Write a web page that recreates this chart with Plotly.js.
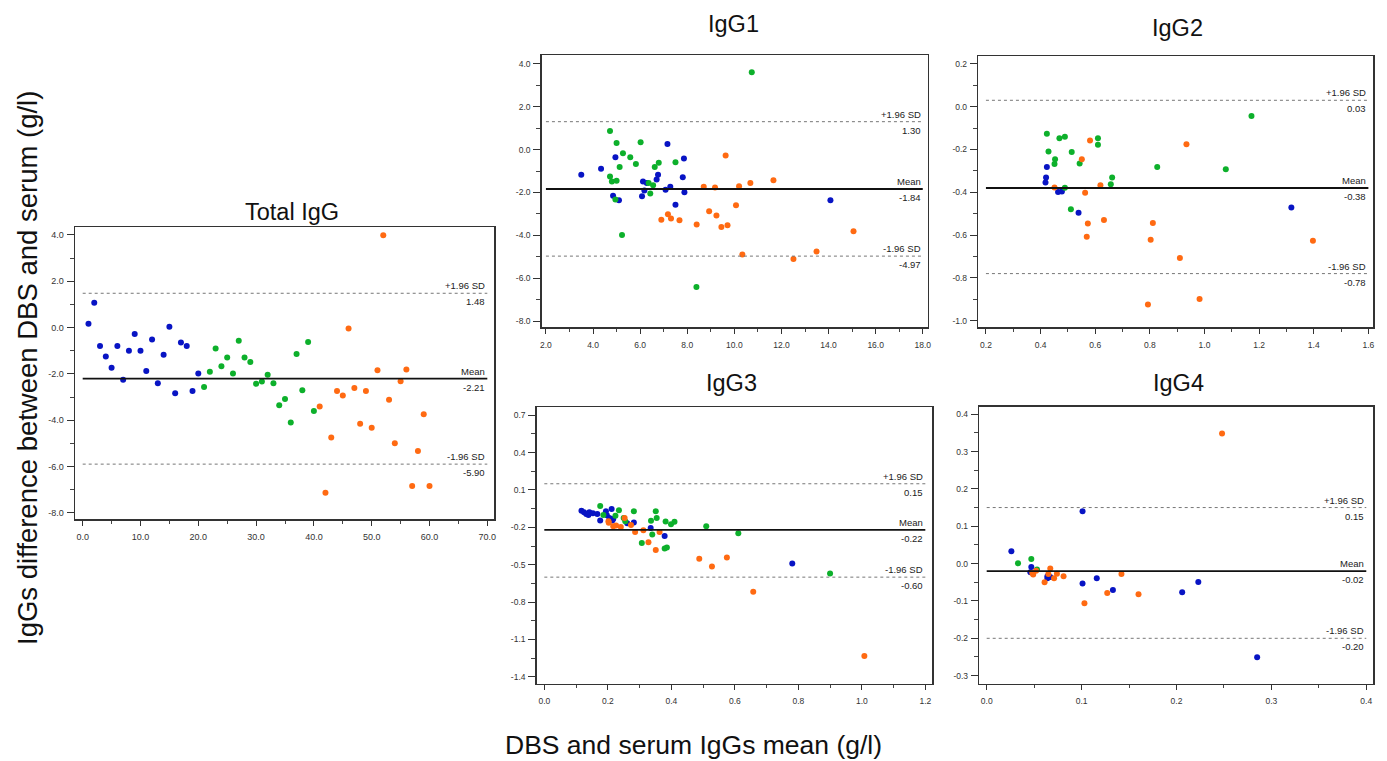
<!DOCTYPE html>
<html>
<head>
<meta charset="utf-8">
<script src="https://cdn.plot.ly/plotly-3.0.1.min.js"></script>
<style>html,body{margin:0;padding:0;background:#fff;}#chart{width:1387px;height:761px;}</style>
</head>
<body>
<div id="chart"></div>
<script>
// ---------- DATA ----------
// Total IgG (x = sample number)
const totalBlueX = [1,2,3,4,5,6,7,8,9,10,11,12,13,14,15,16,17,18,19,20];
const totalBlueY = [0.16,1.07,-0.80,-1.25,-1.74,-0.80,-2.26,-1.00,-0.28,-1.00,-1.88,-0.52,-2.41,-1.17,0.03,-2.84,-0.65,-0.80,-2.74,-1.99];
const totalGreenX = [21,22,23,24,25,26,27,28,29,30,31,32,33,34,35,36,37,38,39,40];
const totalGreenY = [-2.57,-1.91,-0.90,-1.67,-1.29,-1.99,-0.57,-1.29,-1.49,-2.43,-2.33,-2.04,-2.41,-3.36,-3.09,-4.10,-1.14,-2.71,-0.62,-3.61];
const totalOrangeX = [41,42,43,44,45,46,47,48,49,50,51,52,53,54,55,56,57,58,59,60];
const totalOrangeY = [-3.41,-7.14,-4.75,-2.74,-2.94,-0.04,-2.61,-4.16,-2.74,-4.33,-1.84,3.99,-3.12,-5.00,-2.32,-1.81,-6.84,-5.33,-3.74,-6.84];
const totalStats = [1.48,-2.21,-5.90];
const totalStatText = ["1.48","-2.21","-5.90"];

// IgG1
const igg1BlueX = [3.50,4.34,4.95,4.85,5.10,6.08,6.12,6.18,6.28,6.70,6.76,7.16,7.08,7.28,7.50,7.81,7.86,7.88,14.08];
const igg1BlueY = [-1.18,-0.90,-0.36,-2.15,-2.37,-2.18,-1.49,-1.91,-1.56,-1.40,-1.18,0.26,-1.88,-1.74,-2.57,-1.29,-0.42,-1.99,-2.37];
const igg1GreenX = [4.72,4.72,4.80,4.95,5.00,5.00,5.13,5.23,5.27,5.58,5.82,6.02,6.36,6.43,6.55,6.62,6.79,7.50,8.39,10.74];
const igg1GreenY = [0.86,-1.26,-1.49,-2.33,0.30,-1.46,-0.81,-3.98,-0.17,-0.36,-0.67,0.34,-1.56,-2.05,-1.67,-0.81,-0.62,-0.59,-6.41,3.60];
const igg1OrangeX = [6.90,7.18,7.31,7.67,8.40,8.70,8.93,9.18,9.24,9.45,9.63,9.71,10.07,10.20,10.34,10.68,11.66,12.51,13.49,15.06];
const igg1OrangeY = [-3.27,-3.02,-3.22,-3.30,-3.50,-1.74,-2.88,-1.77,-3.08,-3.61,-0.28,-3.53,-2.60,-1.71,-4.89,-1.56,-1.43,-5.10,-4.75,-3.81];
const igg1Stats = [1.30,-1.84,-4.97];
const igg1StatText = ["1.30","-1.84","-4.97"];

// IgG2
const igg2BlueX = [0.423,0.420,0.418,0.464,0.478,0.539,1.318];
const igg2BlueY = [-0.282,-0.331,-0.354,-0.399,-0.396,-0.496,-0.471];
const igg2GreenX = [0.423,0.429,0.453,0.451,0.469,0.489,0.489,0.511,0.514,0.543,0.610,0.610,0.657,0.662,0.827,1.078,1.172];
const igg2GreenY = [-0.126,-0.209,-0.246,-0.268,-0.147,-0.140,-0.379,-0.479,-0.212,-0.265,-0.147,-0.178,-0.362,-0.331,-0.282,-0.292,-0.044];
const igg2OrangeX = [0.451,0.551,0.563,0.573,0.569,0.581,0.619,0.632,0.793,0.803,0.811,0.910,0.934,0.982,1.397];
const igg2OrangeY = [-0.378,-0.246,-0.402,-0.546,-0.608,-0.158,-0.367,-0.530,-0.924,-0.622,-0.544,-0.707,-0.175,-0.899,-0.627];
const igg2Stats = [0.03,-0.38,-0.78];
const igg2StatText = ["0.03","-0.38","-0.78"];

// IgG3
const igg3BlueX = [0.117,0.125,0.132,0.139,0.142,0.153,0.167,0.176,0.194,0.197,0.205,0.212,0.214,0.217,0.261,0.282,0.335,0.379,0.781];
const igg3BlueY = [-0.066,-0.079,-0.092,-0.100,-0.079,-0.087,-0.092,-0.146,-0.071,-0.103,-0.124,-0.052,-0.146,-0.132,-0.167,-0.162,-0.205,-0.269,-0.490];
const igg3GreenX = [0.176,0.186,0.224,0.235,0.250,0.255,0.282,0.307,0.336,0.340,0.351,0.354,0.379,0.386,0.382,0.399,0.410,0.510,0.611,0.900];
const igg3GreenY = [-0.028,-0.100,-0.106,-0.063,-0.124,-0.151,-0.071,-0.325,-0.148,-0.258,-0.071,-0.124,-0.370,-0.362,-0.154,-0.175,-0.156,-0.191,-0.247,-0.571];
const igg3OrangeX = [0.202,0.203,0.217,0.226,0.241,0.253,0.273,0.286,0.312,0.328,0.351,0.363,0.488,0.528,0.575,0.658,1.008];
const igg3OrangeY = [-0.151,-0.164,-0.191,-0.186,-0.197,-0.124,-0.181,-0.237,-0.223,-0.319,-0.381,-0.237,-0.453,-0.514,-0.442,-0.718,-1.233];
const igg3Stats = [0.15,-0.22,-0.60];
const igg3StatText = ["0.15","-0.22","-0.60"];

// IgG4
const igg4BlueX = [0.026,0.047,0.046,0.064,0.064,0.067,0.101,0.101,0.116,0.133,0.206,0.223,0.285];
const igg4BlueY = [0.033,-0.009,-0.023,-0.034,-0.039,-0.036,-0.053,0.140,-0.039,-0.071,-0.077,-0.049,-0.251];
const igg4GreenX = [0.033,0.047,0.053];
const igg4GreenY = [0.001,0.012,-0.016];
const igg4OrangeX = [0.048,0.049,0.052,0.061,0.065,0.067,0.071,0.074,0.081,0.103,0.127,0.142,0.160,0.248];
const igg4OrangeY = [-0.025,-0.029,-0.019,-0.050,-0.028,-0.013,-0.039,-0.027,-0.034,-0.106,-0.079,-0.028,-0.082,0.348];
const igg4Stats = [0.15,-0.02,-0.20];
const igg4StatText = ["0.15","-0.02","-0.20"];

const statNames = ["+1.96 SD","Mean","-1.96 SD"];
const panelTitles = ["Total IgG","IgG1","IgG2","IgG3","IgG4"];

// Tick values / labels
const totalXTicks = [0,10,20,30,40,50,60,70];
const totalXLabels = ["0.0","10.0","20.0","30.0","40.0","50.0","60.0","70.0"];
const totalYTicks = [-8,-6,-4,-2,0,2,4];
const totalYLabels = ["-8.0","-6.0","-4.0","-2.0","0.0","2.0","4.0"];
const igg1XTicks = [2,4,6,8,10,12,14,16,18];
const igg1XLabels = ["2.0","4.0","6.0","8.0","10.0","12.0","14.0","16.0","18.0"];
const igg1YTicks = [-8,-6,-4,-2,0,2,4];
const igg1YLabels = ["-8.0","-6.0","-4.0","-2.0","0.0","2.0","4.0"];
const igg2XTicks = [0.2,0.4,0.6,0.8,1.0,1.2,1.4,1.6];
const igg2XLabels = ["0.2","0.4","0.6","0.8","1.0","1.2","1.4","1.6"];
const igg2YTicks = [-1.0,-0.8,-0.6,-0.4,-0.2,0.0,0.2];
const igg2YLabels = ["-1.0","-0.8","-0.6","-0.4","-0.2","0.0","0.2"];
const igg3XTicks = [0,0.2,0.4,0.6,0.8,1.0,1.2];
const igg3XLabels = ["0.0","0.2","0.4","0.6","0.8","1.0","1.2"];
const igg3YTicks = [-1.4,-1.1,-0.8,-0.5,-0.2,0.1,0.4,0.7];
const igg3YLabels = ["-1.4","-1.1","-0.8","-0.5","-0.2","0.1","0.4","0.7"];
const igg4XTicks = [0,0.1,0.2,0.3,0.4];
const igg4XLabels = ["0.0","0.1","0.2","0.3","0.4"];
const igg4YTicks = [-0.3,-0.2,-0.1,0.0,0.1,0.2,0.3,0.4];
const igg4YLabels = ["-0.3","-0.2","-0.1","0.0","0.1","0.2","0.3","0.4"];

// ---------- STYLE / LAYOUT ----------
const W = 1387, H = 761;
const COLORS = {blue:'#0814c4', green:'#0db02b', orange:'#ff6a12'};
const TICKFONT = {family:'"Liberation Sans Narrow", "Arial Narrow", "Liberation Sans", Arial, sans-serif', size:9, color:'#333'};

const panels = [
  {title:panelTitles[0], groups:[[totalBlueX,totalBlueY],[totalGreenX,totalGreenY],[totalOrangeX,totalOrangeY]],
   stats:totalStats, statText:totalStatText, xr:[-1.33,71.21], yr:[-8.27,4.33], line:[0,70],
   px:[75,494.3], py:[227.3,519], xt:[totalXTicks,totalXLabels], yt:[totalYTicks,totalYLabels],
   xminor:{tick0:0,dtick:5}, yminor:{tick0:0,dtick:1}, titlePos:[292,212], tsize:9},
  {title:panelTitles[1], groups:[[igg1BlueX,igg1BlueY],[igg1GreenX,igg1GreenY],[igg1OrangeX,igg1OrangeY]],
   stats:igg1Stats, statText:igg1StatText, xr:[1.82,18.21], yr:[-8.29,4.41], line:[2,18],
   px:[541.7,927.7], py:[55,327.3], xt:[igg1XTicks,igg1XLabels], yt:[igg1YTicks,igg1YLabels],
   xminor:{tick0:0,dtick:1}, yminor:{tick0:0,dtick:1}, titlePos:[733,24], tsize:8.5},
  {title:panelTitles[2], groups:[[igg2BlueX,igg2BlueY],[igg2GreenX,igg2GreenY],[igg2OrangeX,igg2OrangeY]],
   stats:igg2Stats, statText:igg2StatText, xr:[0.172,1.618], yr:[-1.031,0.237], line:[0.2,1.6],
   px:[978.3,1373.3], py:[56,327.3], xt:[igg2XTicks,igg2XLabels], yt:[igg2YTicks,igg2YLabels],
   xminor:{tick0:0,dtick:0.1}, yminor:{tick0:0,dtick:0.1}, titlePos:[1177,28], tsize:8.5},
  {title:panelTitles[3], groups:[[igg3BlueX,igg3BlueY],[igg3GreenX,igg3GreenY],[igg3OrangeX,igg3OrangeY]],
   stats:igg3Stats, statText:igg3StatText, xr:[-0.024,1.222], yr:[-1.454,0.764], line:[0,1.2],
   px:[536.7,932.3], py:[407.3,683.5], xt:[igg3XTicks,igg3XLabels], yt:[igg3YTicks,igg3YLabels],
   xminor:{tick0:0,dtick:0.1}, yminor:{tick0:0.1,dtick:0.15}, titlePos:[731,383], tsize:8.5},
  {title:panelTitles[4], groups:[[igg4BlueX,igg4BlueY],[igg4GreenX,igg4GreenY],[igg4OrangeX,igg4OrangeY]],
   stats:igg4Stats, statText:igg4StatText, xr:[-0.0078,0.4074], yr:[-0.321,0.420], line:[0,0.4],
   px:[979.3,1373.3], py:[406.7,683.5], xt:[igg4XTicks,igg4XLabels], yt:[igg4YTicks,igg4YLabels],
   xminor:{tick0:0,dtick:0.05}, yminor:{tick0:0,dtick:0.05}, titlePos:[1178,383], tsize:8.5}
];

const traces = [];
const shapes = [];
const annotations = [];
const layout = {
  width:W, height:H, margin:{l:0,r:0,t:0,b:0},
  paper_bgcolor:'#fff', plot_bgcolor:'#fff', showlegend:false,
  font:{family:'"Liberation Sans", Arial, sans-serif', color:'#222'}
};
const groupColors = [COLORS.blue, COLORS.green, COLORS.orange];

panels.forEach((p, i) => {
  const n = i === 0 ? '' : String(i + 1);
  const xa = 'x' + n, ya = 'y' + n;
  p.groups.forEach((g, gi) => {
    traces.push({type:'scatter', mode:'markers', x:g[0], y:g[1], xaxis:xa, yaxis:ya,
      marker:{color:groupColors[gi], size:6, line:{width:0}}, hoverinfo:'x+y'});
  });
  const tf = Object.assign({}, TICKFONT, {size:p.tsize});
  layout['xaxis' + n] = {
    domain:[p.px[0]/W, p.px[1]/W], anchor:ya, range:p.xr, fixedrange:true,
    showline:true, linecolor:'#333', linewidth:1.5, mirror:true,
    showgrid:false, zeroline:false, ticks:'outside', ticklen:5, tickwidth:1, tickcolor:'#333',
    tickmode:'array', tickvals:p.xt[0], ticktext:p.xt[1], tickfont:tf, ticklabelstandoff:4,
    minor:{tickmode:'linear', tick0:p.xminor.tick0, dtick:p.xminor.dtick, ticks:'outside', ticklen:3, tickwidth:1, tickcolor:'#444', showgrid:false}
  };
  layout['yaxis' + n] = {
    domain:[1 - p.py[1]/H, 1 - p.py[0]/H], anchor:xa, range:p.yr, fixedrange:true,
    showline:true, linecolor:'#333', linewidth:1.5, mirror:true,
    showgrid:false, zeroline:false, ticks:'outside', ticklen:7, tickwidth:1, tickcolor:'#333',
    tickmode:'array', tickvals:p.yt[0], ticktext:p.yt[1], tickfont:tf, ticklabelstandoff:1,
    minor:{tickmode:'linear', tick0:p.yminor.tick0, dtick:p.yminor.dtick, ticks:'outside', ticklen:4, tickwidth:1, tickcolor:'#444', showgrid:false}
  };
  p.stats.forEach((v, si) => {
    const isMean = si === 1;
    shapes.push({type:'line', xref:xa, yref:ya, x0:p.line[0], x1:p.line[1], y0:v, y1:v,
      line:isMean ? {color:'#111', width:1.8} : {color:'#777', width:1, dash:'dot'}});
    annotations.push({xref:xa, yref:ya, x:p.line[1], y:v, text:statNames[si], showarrow:false,
      xanchor:'right', yanchor:'bottom', yshift:0, font:{size:9.5, color:'#222'}});
    annotations.push({xref:xa, yref:ya, x:p.line[1], y:v, text:p.statText[si], showarrow:false,
      xanchor:'right', yanchor:'top', yshift:-1, font:{size:9.5, color:'#222'}});
  });
  annotations.push({xref:'paper', yref:'paper', x:p.titlePos[0]/W, y:1 - p.titlePos[1]/H,
    text:p.title, showarrow:false, xanchor:'center', yanchor:'middle',
    font:{size:23.5, color:'#111'}});
});

annotations.push({xref:'paper', yref:'paper', x:27/W, y:1 - 368/H,
  text:'IgGs difference between DBS and serum (g/l)', textangle:-90, showarrow:false,
  xanchor:'center', yanchor:'middle', font:{size:27.5, color:'#111'}});
annotations.push({xref:'paper', yref:'paper', x:693/W, y:1 - 745/H,
  text:'DBS and serum IgGs mean (g/l)', showarrow:false,
  xanchor:'center', yanchor:'middle', font:{size:26.5, color:'#111'}});

layout.shapes = shapes;
layout.annotations = annotations;

Plotly.newPlot('chart', traces, layout, {displayModeBar:false, staticPlot:true});
</script>
</body>
</html>
